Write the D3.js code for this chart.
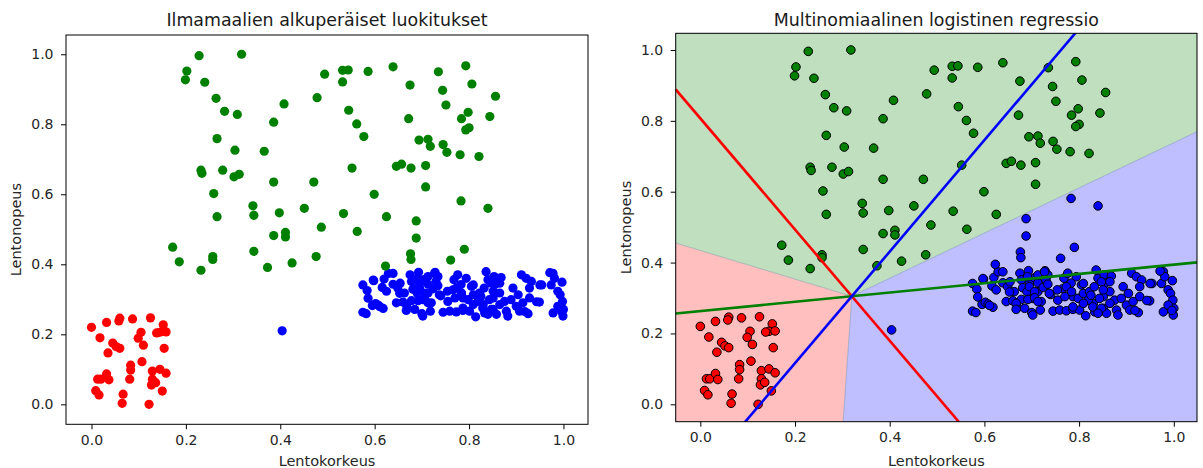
<!DOCTYPE html>
<html>
<head>
<meta charset="utf-8">
<script src="https://cdn.jsdelivr.net/npm/d3@7"></script>
<style>
  body { margin: 0; background: white; }
  text { font-family: "DejaVu Sans", sans-serif; }
</style>
</head>
<body>
<div id="container"></div>
<script>
let w = 1203;
let h = 468;

// class order: 0 = red, 1 = green, 2 = blue
let classColors = ["red", "green", "blue"];

// original labels (left plot)
let redPoints = [
  [0.000,0.220],[0.032,0.234],[0.060,0.246],[0.058,0.238],[0.087,0.244],[0.125,0.247],
  [0.152,0.227],[0.145,0.206],[0.158,0.207],[0.138,0.204],[0.018,0.190],[0.105,0.206],
  [0.099,0.189],[0.110,0.169],[0.045,0.175],[0.052,0.165],[0.060,0.160],[0.035,0.147],
  [0.154,0.160],[0.083,0.112],[0.107,0.122],[0.083,0.098],[0.081,0.072],[0.013,0.072],
  [0.020,0.072],[0.032,0.087],[0.037,0.070],[0.129,0.095],[0.145,0.100],[0.158,0.089],
  [0.129,0.072],[0.127,0.055],[0.136,0.062],[0.150,0.038],[0.009,0.039],[0.016,0.027],
  [0.067,0.029],[0.065,0.003],[0.122,0.000]
];

let greenPoints = [
  [0.228,0.996],[0.318,1.000],[0.202,0.952],[0.199,0.927],[0.240,0.920],[0.264,0.874],
  [0.282,0.837],[0.309,0.828],[0.266,0.759],[0.304,0.726],[0.366,0.723],[0.408,0.858],
  [0.386,0.806],[0.232,0.669],[0.234,0.660],[0.278,0.669],[0.302,0.650],[0.313,0.657],
  [0.386,0.635],[0.471,0.635],[0.259,0.602],[0.266,0.536],[0.342,0.567],[0.344,0.540],
  [0.398,0.547],[0.451,0.560],[0.386,0.482],[0.411,0.491],[0.411,0.478],[0.487,0.506],
  [0.534,0.545],[0.563,0.494],[0.552,0.675],[0.599,0.600],[0.625,0.536],[0.172,0.449],
  [0.186,0.407],[0.232,0.383],[0.257,0.422],[0.257,0.414],[0.344,0.437],[0.373,0.391],
  [0.425,0.404],[0.476,0.422],[0.623,0.395],[0.494,0.943],[0.532,0.954],[0.544,0.955],
  [0.532,0.921],[0.478,0.876],[0.545,0.840],[0.562,0.801],[0.577,0.765],[0.586,0.951],
  [0.639,0.964],[0.675,0.912],[0.672,0.816],[0.735,0.950],[0.744,0.897],[0.751,0.855],
  [0.793,0.967],[0.806,0.915],[0.856,0.880],[0.798,0.834],[0.784,0.816],[0.844,0.822],
  [0.800,0.790],[0.793,0.784],[0.694,0.755],[0.713,0.757],[0.718,0.737],[0.745,0.742],
  [0.753,0.720],[0.781,0.713],[0.821,0.708],[0.646,0.680],[0.657,0.686],[0.677,0.675],
  [0.708,0.682],[0.708,0.621],[0.783,0.581],[0.840,0.560],[0.688,0.524],[0.688,0.475],
  [0.676,0.430],[0.677,0.414],[0.761,0.412],[0.790,0.443]
];

let bluePoints = [
  [0.404,0.210],
  [0.575,0.341],[0.584,0.325],[0.598,0.353],[0.620,0.358],[0.616,0.334],[0.625,0.323],
  [0.575,0.263],[0.582,0.259],[0.595,0.282],[0.602,0.288],[0.608,0.283],[0.618,0.274],
  [0.629,0.374],[0.639,0.343],[0.649,0.332],[0.654,0.346],[0.639,0.374],[0.646,0.290],
  [0.660,0.292],[0.669,0.275],[0.678,0.296],[0.685,0.271],[0.675,0.370],[0.693,0.377],
  [0.678,0.351],[0.695,0.343],[0.706,0.357],[0.713,0.343],[0.681,0.329],[0.690,0.318],
  [0.702,0.299],[0.713,0.318],[0.724,0.330],[0.720,0.290],[0.734,0.365],[0.730,0.351],
  [0.734,0.339],[0.700,0.259],[0.718,0.266],[0.728,0.377],[0.740,0.310],[0.755,0.294],
  [0.745,0.263],[0.759,0.266],[0.773,0.264],[0.766,0.327],[0.754,0.323],[0.768,0.356],
  [0.776,0.370],[0.794,0.360],[0.783,0.342],[0.787,0.304],[0.798,0.299],[0.805,0.337],
  [0.809,0.313],[0.787,0.268],[0.801,0.266],[0.814,0.250],[0.833,0.261],[0.830,0.285],
  [0.819,0.294],[0.822,0.318],[0.832,0.332],[0.840,0.356],[0.836,0.379],[0.853,0.365],
  [0.855,0.342],[0.868,0.362],[0.865,0.346],[0.851,0.304],[0.865,0.318],[0.875,0.294],
  [0.851,0.271],[0.858,0.257],[0.879,0.266],[0.882,0.252],[0.893,0.332],[0.904,0.313],
  [0.889,0.299],[0.911,0.370],[0.921,0.360],[0.932,0.351],[0.928,0.332],[0.900,0.280],
  [0.914,0.290],[0.928,0.304],[0.925,0.259],[0.907,0.266],[0.949,0.292],[0.954,0.341],
  [0.974,0.341],[0.978,0.374],[0.981,0.360],[0.988,0.323],[0.997,0.349],[0.993,0.313],
  [0.998,0.294],[1.000,0.271],[0.978,0.261],[0.988,0.280],[0.999,0.252],
  [0.691,0.360],[0.713,0.365],[0.727,0.374],[0.663,0.318],[0.695,0.332],[0.706,0.318],
  [0.667,0.285],[0.692,0.296],[0.706,0.301],[0.713,0.290],[0.667,0.268],[0.702,0.252],
  [0.737,0.313],[0.773,0.332],[0.770,0.304],[0.784,0.318],[0.787,0.275],[0.809,0.285],
  [0.809,0.341],[0.847,0.346],[0.825,0.308],[0.843,0.299],[0.851,0.323],[0.829,0.275],
  [0.847,0.271],[0.840,0.257],[0.865,0.285],[0.586,0.303],[0.943,0.293],[0.611,0.279],
  [0.653,0.317],[0.597,0.355],[0.971,0.376],[0.950,0.341],[0.918,0.265],[0.996,0.265]
];

// fitted multinomial model (coef per class, intercept per class)
let coefs = [[-7.20, -4.59], [-1.31, 10.00], [8.51, -5.41]];
let intercepts = [3.704, -2.631, -1.073];

let xTicks = [0.0, 0.2, 0.4, 0.6, 0.8, 1.0];
let yTicks = [0.0, 0.2, 0.4, 0.6, 0.8, 1.0];

let titles = ["Ilmamaalien alkuperäiset luokitukset", "Multinomiaalinen logistinen regressio"];
let xLabel = "Lentokorkeus";
let yLabel = "Lentonopeus";

let viz = d3.select("#container")
  .append("svg")
    .attr("width", w)
    .attr("height", h)
    .style("background-color", "white")
;

// all points with their original class
let allPoints = [];
bluePoints.forEach(function(d){ allPoints.push({x: d[0], y: d[1], c: 2}); });
greenPoints.forEach(function(d){ allPoints.push({x: d[0], y: d[1], c: 1}); });
redPoints.forEach(function(d){ allPoints.push({x: d[0], y: d[1], c: 0}); });

function score(k, x, y){
  return coefs[k][0]*x + coefs[k][1]*y + intercepts[k];
}
function predict(x, y){
  let s = [0, 1, 2].map(function(k){ return score(k, x, y); });
  return s.indexOf(d3.max(s));
}

// builds a panel: ticks, title, labels. returns the scales
function buildPanel(p, title){
  let xScale = d3.scaleLinear().domain(p.xDomain).range([p.left, p.right]);
  let yScale = d3.scaleLinear().domain(p.yDomain).range([p.bottom, p.top]);

  let g = viz.append("g").attr("class", "panel");

  let xAxisGroup = g.append("g")
    .attr("transform", "translate(0, " + p.bottom + ")")
    .call(d3.axisBottom(xScale).tickValues(xTicks).tickFormat(d3.format(".1f")).tickSize(5).tickPadding(5.5))
  ;
  let yAxisGroup = g.append("g")
    .attr("transform", "translate(" + p.left + ", 0)")
    .call(d3.axisLeft(yScale).tickValues(yTicks).tickFormat(d3.format(".1f")).tickSize(5).tickPadding(7.5))
  ;
  [xAxisGroup, yAxisGroup].forEach(function(a){
    a.select(".domain").remove();
    a.selectAll("text")
      .attr("font-family", "DejaVu Sans")
      .attr("font-size", 14)
      .attr("fill", "#262626");
    a.selectAll("line").attr("stroke", "black").attr("stroke-width", 1);
  });

  g.append("text")
    .text(title)
    .attr("x", (p.left + p.right)/2)
    .attr("y", 26)
    .attr("font-size", 17.4)
    .attr("fill", "#1a1a1a")
    .attr("text-anchor", "middle")
  ;
  g.append("text")
    .text(xLabel)
    .attr("x", (p.left + p.right)/2)
    .attr("y", 466)
    .attr("font-size", 14.5)
    .attr("fill", "#262626")
    .attr("text-anchor", "middle")
  ;
  g.append("text")
    .text(yLabel)
    .attr("transform", "translate(" + (p.left - 45) + ", " + ((p.top + p.bottom)/2) + ") rotate(-90)")
    .attr("font-size", 14.5)
    .attr("fill", "#262626")
    .attr("text-anchor", "middle")
  ;

  let clipId = "clip" + Math.round(p.left);
  viz.append("clipPath").attr("id", clipId)
    .append("rect")
      .attr("x", p.left).attr("y", p.top)
      .attr("width", p.right - p.left).attr("height", p.bottom - p.top)
  ;

  let plotArea = g.append("g").attr("clip-path", "url(#" + clipId + ")");

  return {xScale: xScale, yScale: yScale, g: g, plotArea: plotArea, p: p};
}

function drawFrame(panel){
  let p = panel.p;
  panel.g.append("rect")
    .attr("x", p.left).attr("y", p.top)
    .attr("width", p.right - p.left).attr("height", p.bottom - p.top)
    .attr("fill", "none")
    .attr("stroke", "black")
    .attr("stroke-width", 1)
  ;
}

// ---- left panel: original classes
let leftPanel = buildPanel({left: 66, right: 588, top: 35, bottom: 424.3,
  xDomain: [-0.054, 1.052], yDomain: [-0.057, 1.055]}, titles[0]);

leftPanel.plotArea.selectAll(".dot").data(allPoints).enter()
  .append("circle")
    .attr("class", "dot")
    .attr("cx", function(d){ return leftPanel.xScale(d.x); })
    .attr("cy", function(d){ return leftPanel.yScale(d.y); })
    .attr("r", 4.6)
    .attr("fill", function(d){ return classColors[d.c]; })
;
drawFrame(leftPanel);

// ---- right panel: regression
let rightPanel = buildPanel({left: 675.7, right: 1197, top: 33.3, bottom: 421.7,
  xDomain: [-0.052, 1.049], yDomain: [-0.049, 1.047]}, titles[1]);

// clip a polygon (data coords) to the half plane a*x + b*y + c >= 0
function clipHalf(poly, a, b, c){
  let out = [];
  for(let i = 0; i < poly.length; i++){
    let P = poly[i];
    let Q = poly[(i + 1) % poly.length];
    let fp = a*P[0] + b*P[1] + c;
    let fq = a*Q[0] + b*Q[1] + c;
    if(fp >= 0) out.push(P);
    if((fp >= 0) != (fq >= 0)){
      let t = fp / (fp - fq);
      out.push([P[0] + t*(Q[0] - P[0]), P[1] + t*(Q[1] - P[1])]);
    }
  }
  return out;
}

let xd = rightPanel.p.xDomain;
let yd = rightPanel.p.yDomain;
let box = [[xd[0], yd[0]], [xd[1], yd[0]], [xd[1], yd[1]], [xd[0], yd[1]]];

let regions = [0, 1, 2].map(function(k){
  let poly = box;
  [0, 1, 2].forEach(function(j){
    if(j == k) return;
    poly = clipHalf(poly, coefs[k][0] - coefs[j][0], coefs[k][1] - coefs[j][1], intercepts[k] - intercepts[j]);
  });
  return {c: k, poly: poly};
});

let polyLine = d3.line()
  .x(function(d){ return rightPanel.xScale(d[0]); })
  .y(function(d){ return rightPanel.yScale(d[1]); })
  .curve(d3.curveLinearClosed)
;

rightPanel.plotArea.selectAll(".region").data(regions).enter()
  .append("path")
    .attr("class", "region")
    .attr("d", function(d){ return polyLine(d.poly); })
    .attr("fill", function(d){ return classColors[d.c]; })
    .attr("fill-opacity", 0.25)
    .attr("stroke", "#7f9fb0")
    .attr("stroke-opacity", 0.35)
    .attr("stroke-width", 0.8)
;

rightPanel.plotArea.selectAll(".dot").data(allPoints).enter()
  .append("circle")
    .attr("class", "dot")
    .attr("cx", function(d){ return rightPanel.xScale(d.x); })
    .attr("cy", function(d){ return rightPanel.yScale(d.y); })
    .attr("r", 4.3)
    .attr("fill", function(d){ return classColors[predict(d.x, d.y)]; })
    .attr("stroke", "black")
    .attr("stroke-width", 1)
;

// the hyperplanes of each class: coef . x + intercept = 0
let hyperLine = d3.line()
  .x(function(d){ return rightPanel.xScale(d[0]); })
  .y(function(d){ return rightPanel.yScale(d[1]); })
;
let hyperplanes = [0, 1, 2].map(function(k){
  let pts = xd.map(function(x){
    return [x, -(coefs[k][0]*x + intercepts[k]) / coefs[k][1]];
  });
  return {c: k, pts: pts};
});

rightPanel.plotArea.selectAll(".hyper").data(hyperplanes).enter()
  .append("path")
    .attr("class", "hyper")
    .attr("d", function(d){ return hyperLine(d.pts); })
    .attr("fill", "none")
    .attr("stroke", function(d){ return classColors[d.c]; })
    .attr("stroke-width", 2.6)
;
drawFrame(rightPanel);
</script>
</body>
</html>
